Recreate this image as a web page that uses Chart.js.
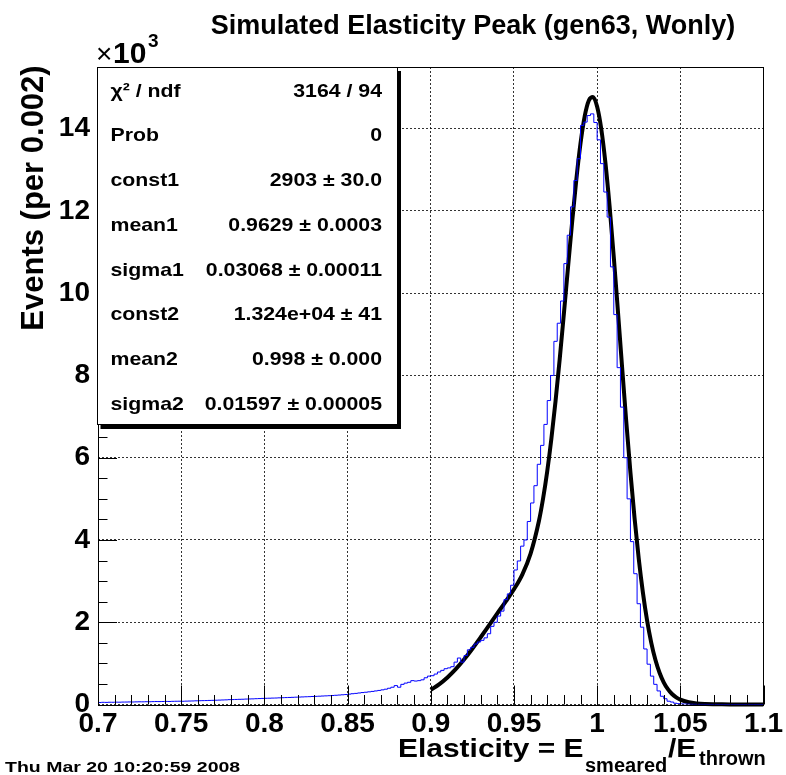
<!DOCTYPE html>
<html>
<head>
<meta charset="utf-8">
<script src="https://cdn.jsdelivr.net/npm/chart.js@4.4.1/dist/chart.umd.min.js"></script>
<style>
html,body{margin:0;padding:0;background:#fff;}
canvas{display:block;}
</style>
</head>
<body>
<canvas id="c" width="786" height="775"></canvas>
<script>
// ---------------- DATA ----------------
const binStart = 0.7;
const binWidth = 0.002;
const counts = [
  50, 48, 53, 51, 55, 54, 57, 56, 59, 60,
  62, 61, 64, 66, 65, 68, 67, 70, 72, 71,
  73, 75, 74, 77, 79, 80, 78, 82, 84, 86,
  90, 92, 94, 96, 99, 101, 104, 107, 110, 113,
  118, 120, 123, 126, 128, 132, 135, 137, 141, 144,
  148, 151, 153, 156, 158, 162, 165, 168, 171, 174,
  178, 181, 184, 188, 191, 195, 198, 202, 206, 210,
  214, 219, 224, 230, 236, 242, 252, 262, 270, 280,
  290, 298, 308, 318, 330, 342, 356, 372, 395, 420,
  460, 420, 490, 520, 540, 580, 570, 580, 600, 650,
  690, 700, 740, 790, 830, 870, 890, 920, 1030, 1130,
  1030, 1190, 1330, 1390, 1470, 1520, 1560, 1620, 1720, 1900,
  2000, 2150, 2270, 2550, 2690, 2900, 3270, 3490, 3850, 4000,
  4450, 4900, 5320, 5840, 6300, 6810, 7390, 8000, 8830, 9270,
  9810, 10720, 11410, 12100, 12740, 13270, 14080, 14160, 14320, 14360,
  14150, 13730, 13150, 12460, 11850, 10640, 9480, 8190, 7230, 6000,
  5000, 3960, 3180, 2450, 1880, 1350, 980, 690, 490, 330,
  200, 140, 80, 60, 30, 20, 15, 10, 8, 5,
  4, 3, 2, 2, 1, 1, 1, 0, 0, 0,
  0, 0, 0, 0, 0, 0, 0, 0, 0, 0
];
const fitX = [0.900,0.905,0.910,0.915,0.920,0.925,0.930,0.935,0.940,0.945,0.950,0.955,0.960,0.965,0.9675,0.970,0.9725,0.975,0.9775,0.980,0.9825,0.985,0.9875,0.990,0.9925,0.995,0.9975,1.000,1.0025,1.005,1.0075,1.010,1.0125,1.015,1.0175,1.020,1.0225,1.025,1.0275,1.030,1.0325,1.035,1.0375,1.040,1.0425,1.045,1.0475,1.050,1.055,1.060,1.065,1.070,1.075,1.080,1.085,1.090,1.095,1.100];
const fitY = [355,489,657,858,1092,1354,1635,1925,2215,2502,2802,3160,3670,4461,5008,5673,6465,7380,8400,9500,10633,11746,12771,13644,14301,14687,14771,14534,13987,13159,12102,10878,9554,8199,6878,5641,4522,3545,2720,2044,1505,1087,772,540,373,255,174,118,55,26,13,7,4,2,1,0.5,0.3,0.1];
const xTicks = [0.7, 0.75, 0.8, 0.85, 0.9, 0.95, 1.0, 1.05, 1.1];
const xTickLabels = ["0.7", "0.75", "0.8", "0.85", "0.9", "0.95", "1", "1.05", "1.1"];
const yTicks = [0, 2000, 4000, 6000, 8000, 10000, 12000, 14000];
const yTickLabels = ["0", "2", "4", "6", "8", "10", "12", "14"];
const xMin = 0.7, xMax = 1.1, xMinorStep = 0.01;
const yMin = 0, yMax = 15500, yMinorStep = 500;
const statLabels = ["χ² / ndf", "Prob", "const1", "mean1", "sigma1", "const2", "mean2", "sigma2"];
const statValues = ["3164 / 94", "0", "2903 ± 30.0", "0.9629 ± 0.0003", "0.03068 ± 0.00011", "1.324e+04 ± 41", "0.998 ± 0.000", "0.01597 ± 0.00005"];
const titleText = "Simulated Elasticity Peak (gen63, Wonly)";
const yTitle = "Events (per 0.002)";
const dateText = "Thu Mar 20 10:20:59 2008";

// ---------------- BUILD ----------------
const histPts = counts.map((c, i) => ({x: binStart + i * binWidth, y: c}));
histPts.push({x: binStart + counts.length * binWidth, y: counts[counts.length - 1]});
const fitPts = fitX.map((x, i) => ({x: x, y: fitY[i]}));

const FONT = '"Liberation Sans", Arial, Helvetica, sans-serif';
function txt(ctx, s, x, y, size, o) {
  o = o || {};
  ctx.save();
  ctx.font = (o.bold === false ? '' : 'bold ') + size + 'px ' + FONT;
  ctx.fillStyle = '#000';
  ctx.textAlign = o.align || 'left';
  ctx.textBaseline = o.baseline || 'alphabetic';
  ctx.translate(x, y);
  if (o.rot) ctx.rotate(o.rot);
  ctx.scale(o.sx || 1, 1);
  ctx.fillText(s, 0, 0);
  ctx.restore();
}

const rootPlugin = {
  id: 'rootDecor',
  afterDatasetsDraw(chart) {
    const ctx = chart.ctx, a = chart.chartArea;
    const xs = chart.scales.x, ys = chart.scales.y;
    ctx.save();
    ctx.strokeStyle = '#000';
    ctx.lineWidth = 1;
    ctx.beginPath();
    const nx = Math.round((xMax - xMin) / xMinorStep);
    for (let i = 0; i <= nx; i++) {
      const v = xMin + i * xMinorStep;
      const major = (i % 5) === 0;
      const px = Math.round(xs.getPixelForValue(v)) + 0.5;
      ctx.moveTo(px, a.bottom);
      ctx.lineTo(px, a.bottom - (major ? 19 : 9.5));
    }
    const ny = Math.round((yMax - yMin) / yMinorStep);
    for (let i = 0; i <= ny; i++) {
      const v = yMin + i * yMinorStep;
      const major = (i % 4) === 0;
      const py = Math.round(ys.getPixelForValue(v)) + 0.5;
      ctx.moveTo(a.left, py);
      ctx.lineTo(a.left + (major ? 19 : 9.5), py);
    }
    ctx.stroke();
    ctx.strokeRect(Math.round(a.left) + 0.5, Math.round(a.top) + 0.5, Math.round(a.right - a.left) - 1, Math.round(a.bottom - a.top));
    ctx.restore();
  },
  afterDraw(chart) {
    const ctx = chart.ctx, a = chart.chartArea;
    // stats box
    const bx = a.left - 1.5, by = a.top, bw = 300.5, bh = 358;
    ctx.save();
    ctx.fillStyle = '#000';
    ctx.fillRect(bx + 4, by + 4, bw, bh);
    ctx.fillStyle = '#fff';
    ctx.fillRect(bx, by, bw, bh);
    ctx.strokeStyle = '#000';
    ctx.lineWidth = 1;
    ctx.strokeRect(Math.round(bx) + 0.5, Math.round(by) + 0.5, Math.round(bw) - 1, Math.round(bh) - 1);
    ctx.restore();
    const rowH = bh / statLabels.length;
    for (let i = 0; i < statLabels.length; i++) {
      const cy = by + rowH * (i + 0.5) + 2;
      txt(ctx, statLabels[i], bx + 14, cy, 19, {baseline: 'middle', sx: 1.12});
      txt(ctx, statValues[i], bx + bw - 15, cy, 19, {baseline: 'middle', align: 'right', sx: 1.12});
    }
    // title
    txt(ctx, titleText, 473, 33.5, 27, {align: 'center'});
    // x10^3
    txt(ctx, '×', 96, 63, 28, {bold: false});
    txt(ctx, '10', 113, 63, 30);
    txt(ctx, '3', 148, 46.5, 19);
    // y title
    txt(ctx, yTitle, 43, 198, 31, {align: 'center', rot: -Math.PI / 2});
    // x title
    txt(ctx, 'Elasticity = E', 398, 757, 26.5, {sx: 1.13});
    txt(ctx, 'smeared', 585, 772, 20);
    txt(ctx, '/E', 668, 757, 26.5, {sx: 1.13});
    txt(ctx, 'thrown', 699, 765, 20);
    // date
    txt(ctx, dateText, 5, 772, 15, {sx: 1.3});
  }
};

function fixTicks(vals, lo, hi) {
  return (s) => {
    s.ticks = vals.map(v => ({value: v}));
    s.min = lo;
    s.max = hi;
  };
}

new Chart(document.getElementById('c'), {
  type: 'line',
  data: {
    datasets: [
      {
        label: 'hist',
        data: histPts,
        stepped: 'after',
        borderColor: '#0000ff',
        borderWidth: 1,
        pointRadius: 0,
        fill: false,
        tension: 0
      },
      {
        label: 'fit',
        data: fitPts,
        borderColor: '#000000',
        borderWidth: 4,
        pointRadius: 0,
        fill: false,
        cubicInterpolationMode: 'monotone',
        clip: {left: 0, right: 0, top: 0, bottom: 3}
      }
    ]
  },
  options: {
    responsive: false,
    animation: false,
    devicePixelRatio: 1,
    layout: {padding: {top: 67, right: 20, left: 0, bottom: 0}},
    plugins: {legend: {display: false}, tooltip: {enabled: false}, title: {display: false}},
    scales: {
      x: {
        type: 'linear',
        bounds: 'data',
        min: xMin, max: xMax,
        afterBuildTicks: fixTicks(xTicks, xMin, xMax),
        afterFit: (s) => { s.height = 70.5; },
        grid: {display: true, color: 'rgba(0,0,0,0.8)', lineWidth: 1, drawTicks: false},
        border: {display: false, dash: [2, 2]},
        ticks: {
          maxRotation: 0, minRotation: 0,
          autoSkip: false,
          padding: 3,
          color: '#000',
          font: {family: FONT, size: 28, weight: 'bold'},
          callback: (v, i) => xTickLabels[i]
        }
      },
      y: {
        type: 'linear',
        bounds: 'data',
        min: yMin, max: yMax,
        afterBuildTicks: fixTicks(yTicks, yMin, yMax),
        afterFit: (s) => { s.width = 98; },
        grid: {display: true, color: 'rgba(0,0,0,0.8)', lineWidth: 1, drawTicks: false},
        border: {display: false, dash: [2, 2]},
        ticks: {
          padding: 8,
          color: '#000',
          font: {family: FONT, size: 28, weight: 'bold'},
          callback: (v, i) => yTickLabels[i]
        }
      }
    }
  },
  plugins: [rootPlugin]
});
</script>
</body>
</html>
